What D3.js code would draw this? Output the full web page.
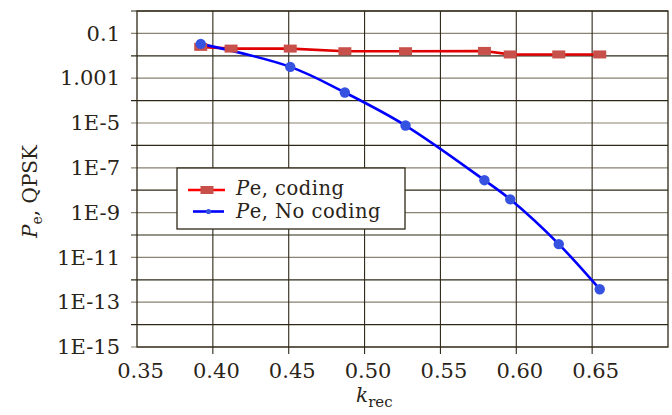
<!DOCTYPE html>
<html>
<head>
<meta charset="utf-8">
<script src="https://cdn.jsdelivr.net/npm/d3@7"></script>
<style>
  body { margin: 0; background: #fff; }
  svg { display: block; font-family: "DejaVu Serif", serif; }
</style>
</head>
<body>
<svg id="chart"></svg>
<script>
// Pe vs k_rec, QPSK with / without coding

const xTicks = [0.35, 0.40, 0.45, 0.50, 0.55, 0.60, 0.65];
const yTickValues = [1e-1, 1e-3, 1e-5, 1e-7, 1e-9, 1e-11, 1e-13, 1e-15];
const yTickLabels = ['0.1', '1.001', '1E-5', '1E-7', '1E-9', '1E-11', '1E-13', '1E-15'];

const codingK = [0.392, 0.412, 0.451, 0.487, 0.527, 0.579, 0.596, 0.628, 0.655];
const codingPe = [0.025, 0.021, 0.021, 0.016, 0.016, 0.0165, 0.0115, 0.0115, 0.0115];

const noCodingK = [0.392, 0.451, 0.487, 0.527, 0.579, 0.596, 0.628, 0.655];
const noCodingPe = [0.034, 3.2e-3, 2.3e-4, 7.7e-6, 2.8e-8, 3.9e-9, 3.9e-11, 3.8e-13];

const width = 672, height = 415;
const margin = { top: 11, right: 4, bottom: 68, left: 137 };
const chartWidth = width - margin.left - margin.right;
const chartHeight = height - margin.top - margin.bottom;

const svg = d3.select('#chart')
  .attr('width', width)
  .attr('height', height);

const g = svg.append('g')
  .attr('transform', `translate(${margin.left},${margin.top})`);

const xScale = d3.scaleLinear().domain([0.35, 0.70]).range([0, chartWidth]);
const yScale = d3.scaleLog().domain([1e-15, 1]).range([chartHeight, 0]);

const dark = '#2e2818';
const light = '#8a8272';

// horizontal grid, one line per decade
const decades = d3.range(0, 16).map(e => Math.pow(10, -e));
g.append('g')
  .selectAll('line')
  .data(decades)
  .enter()
  .append('line')
  .attr('x1', -6)
  .attr('x2', chartWidth)
  .attr('y1', d => yScale(d))
  .attr('y2', d => yScale(d))
  .style('stroke', d => Math.round(-Math.log10(d)) % 2 === 1 ? light : dark)
  .style('stroke-width', '1.2px');

// vertical grid
g.append('g')
  .selectAll('line')
  .data(xTicks.slice(1))
  .enter()
  .append('line')
  .attr('x1', d => xScale(d))
  .attr('x2', d => xScale(d))
  .attr('y1', 0)
  .attr('y2', chartHeight + 7)
  .style('stroke', dark)
  .style('stroke-width', '1.1px');

// frame
g.append('rect')
  .attr('width', chartWidth)
  .attr('height', chartHeight)
  .style('fill', 'none')
  .style('stroke', dark)
  .style('stroke-width', '1.3px');

// axes (labels only, lines drawn above)
const xAxis = d3.axisBottom(xScale)
  .tickValues(xTicks)
  .tickSize(0)
  .tickPadding(16)
  .tickFormat(d3.format('.2f'));

g.append('g')
  .attr('class', 'axis x-axis')
  .attr('transform', `translate(3,${chartHeight})`)
  .call(xAxis)
  .call(a => a.select('.domain').remove())
  .selectAll('text')
  .style('font-family', '"DejaVu Serif", serif')
  .style('font-size', '21px')
  .style('fill', '#2a2418');

const yAxis = d3.axisLeft(yScale)
  .tickValues(yTickValues)
  .tickSize(0)
  .tickPadding(17)
  .tickFormat((d, i) => yTickLabels[i]);

g.append('g')
  .attr('class', 'axis y-axis')
  .call(yAxis)
  .call(a => a.select('.domain').remove())
  .selectAll('text')
  .style('font-family', '"DejaVu Serif", serif')
  .style('font-size', '21px')
  .style('fill', '#2a2418');

// axis titles
const xTitle = svg.append('text')
  .attr('x', 356)
  .attr('y', 402)
  .style('font-size', '20px')
  .style('fill', '#2a2418');
xTitle.append('tspan').style('font-style', 'italic').text('k');
xTitle.append('tspan').attr('dy', 5).style('font-size', '15px').text('rec');

const yTitle = svg.append('text')
  .attr('transform', 'translate(37,238) rotate(-90)')
  .style('font-size', '20px')
  .style('fill', '#2a2418');
yTitle.append('tspan').style('font-style', 'italic').text('P');
yTitle.append('tspan').attr('dy', 5).style('font-size', '14px').text('e');
yTitle.append('tspan').attr('dy', -5).text(', QPSK');

// series
const curve = d3.line()
  .x(d => xScale(d.k))
  .y(d => yScale(d.pe))
  .curve(d3.curveCatmullRom);

const coding = codingK.map((k, i) => ({ k, pe: codingPe[i] }));
const noCoding = noCodingK.map((k, i) => ({ k, pe: noCodingPe[i] }));

g.append('path')
  .attr('d', d3.line().x(d => xScale(d.k)).y(d => yScale(d.pe))(coding))
  .style('fill', 'none')
  .style('stroke', '#e00000')
  .style('stroke-width', '2.6px');

g.append('path')
  .attr('d', curve(noCoding))
  .style('fill', 'none')
  .style('stroke', '#0000ff')
  .style('stroke-width', '2.6px');

g.selectAll('.sq')
  .data(coding)
  .enter()
  .append('rect')
  .attr('class', 'sq')
  .attr('x', d => xScale(d.k) - 6.5)
  .attr('y', d => yScale(d.pe) - 4)
  .attr('width', 13)
  .attr('height', 8)
  .style('fill', '#c8504a');

g.selectAll('.dot')
  .data(noCoding)
  .enter()
  .append('circle')
  .attr('class', 'dot')
  .attr('cx', d => xScale(d.k))
  .attr('cy', d => yScale(d.pe))
  .attr('r', 5.2)
  .style('fill', '#3552e0');

// legend
const legend = svg.append('g').attr('transform', 'translate(177,168)');

legend.append('rect')
  .attr('width', 228)
  .attr('height', 61)
  .style('fill', '#fff')
  .style('stroke', dark)
  .style('stroke-width', '1.3px');

legend.append('line')
  .attr('x1', 11).attr('x2', 48).attr('y1', 22).attr('y2', 22)
  .style('stroke', '#ff0000').style('stroke-width', '2.6px');
legend.append('rect')
  .attr('x', 23.5).attr('y', 18).attr('width', 13).attr('height', 8)
  .style('fill', '#c8504a');

legend.append('line')
  .attr('x1', 16).attr('x2', 47).attr('y1', 43.5).attr('y2', 43.5)
  .style('stroke', '#0000ff').style('stroke-width', '2.6px');
legend.append('circle')
  .attr('cx', 31.5).attr('cy', 43.5).attr('r', 2.6)
  .style('fill', '#3552e0');

const legendText = ['Pe, coding', 'Pe, No coding'];
legend.selectAll('.lt')
  .data(legendText)
  .enter()
  .append('text')
  .attr('class', 'lt')
  .attr('x', 59)
  .attr('y', (d, i) => 27 + i * 23)
  .style('font-size', '19.5px')
  .style('letter-spacing', '0.5px')
  .style('fill', '#2a2418')
  .each(function(d) {
    const t = d3.select(this);
    t.append('tspan').style('font-style', 'italic').text(d.slice(0, 1));
    t.append('tspan').text(d.slice(1));
  });
</script>
</body>
</html>
